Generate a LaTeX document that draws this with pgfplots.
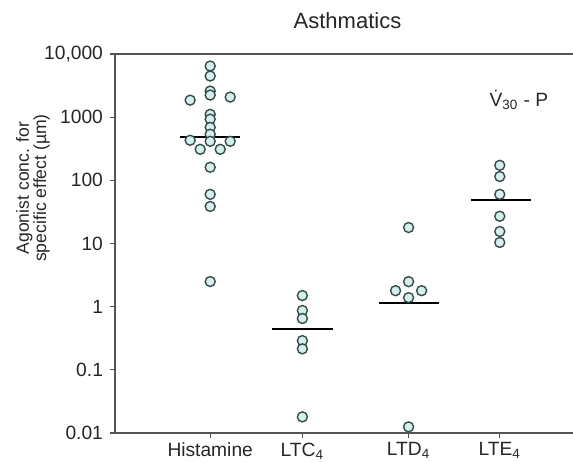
\documentclass[border=0pt]{standalone}
\usepackage{fontspec}
\setmainfont{Liberation Sans}
\usepackage{pgfplots}
\pgfplotsset{compat=1.18}
\definecolor{mk}{RGB}{212,240,236}
\definecolor{mkedge}{RGB}{55,75,75}
\definecolor{axcol}{RGB}{85,85,85}
\begin{document}
\begin{tikzpicture}
\useasboundingbox (-57.5pt,-14pt) rectangle (229pt,216.5pt);
\begin{axis}[
  at={(0pt,0pt)}, anchor=south west,
  scale only axis, width=228.5pt, height=189.5pt,
  xmin=115, xmax=572, ymode=log, ymin=0.01, ymax=10000,
  axis y line*=left, axis x line*=bottom,
  axis line style={axcol, line width=0.8pt, -},
  tick style={axcol, line width=0.6pt},
  tick align=outside, major tick length=2.5pt,
  xtick={210,302,408,499},
  xticklabels={Histamine, LTC\textsubscript{4}, LTD\textsubscript{4}, LTE\textsubscript{4}},
  xticklabel style={yshift=1.2pt},
  ytick={0.01,0.1,1,10,100,1000,10000},
  yticklabels={0.01,0.1,1,10,100,1000,{10,000}},
  yminorticks=false,
  ticklabel style={font=\fontsize{9.6}{11}\selectfont, text=black!85},
  clip=false,
]
\draw[axcol, line width=0.8pt] (rel axis cs:0,1) -- (rel axis cs:1,1);
% medians
\addplot[black, line width=1pt] coordinates {(180,482) (240,482)};
\addplot[black, line width=1pt] coordinates {(272,0.448) (333,0.448)};
\addplot[black, line width=1pt] coordinates {(378,1.16) (438,1.16)};
\addplot[black, line width=1pt] coordinates {(470,48) (530,48)};
% points
\pgfplotsset{every axis plot/.append style={}}
\addplot[only marks, mark=*, mark size=2.5pt, mark options={fill=mk, draw=mkedge, line width=0.7pt}] coordinates {
(210,6450) (210,4480) (210,2590) (210,2240) (190,1860) (230,2080) (210,1110) (210,930) (210,690) (210,537) (190,431) (210,415) (230,415) (200,310) (220,310) (210,161) (210,60) (210,38.6) (210,2.5)
};
\addplot[only marks, mark=*, mark size=2.5pt, mark options={fill=mk, draw=mkedge, line width=0.7pt}] coordinates {
(302,1.50) (302,0.87) (302,0.65) (302,0.29) (302,0.215) (302,0.018)
};
\addplot[only marks, mark=*, mark size=2.5pt, mark options={fill=mk, draw=mkedge, line width=0.7pt}] coordinates {
(408,17.9) (408,2.49) (395,1.79) (421,1.79) (408,1.39) (408,0.0125)
};
\addplot[only marks, mark=*, mark size=2.5pt, mark options={fill=mk, draw=mkedge, line width=0.7pt}] coordinates {
(499,173) (499,115) (499,60) (499,27) (499,15.5) (499,10.4)
};
\node[font=\fontsize{11}{13}\selectfont, text=black!85] at (axis cs:347,33400) {Asthmatics};
\node[anchor=base, font=\fontsize{9.6}{11}\selectfont, text=black!85] at (axis cs:518,1496) {\.{V}\textsubscript{30} - P};
\end{axis}
\node[rotate=90, align=center, font=\fontsize{8.8}{8.7}\selectfont, text=black!85] at (-41pt,122.5pt) {Agonist conc. for\\specific effect (µm)};
\end{tikzpicture}
\end{document}
